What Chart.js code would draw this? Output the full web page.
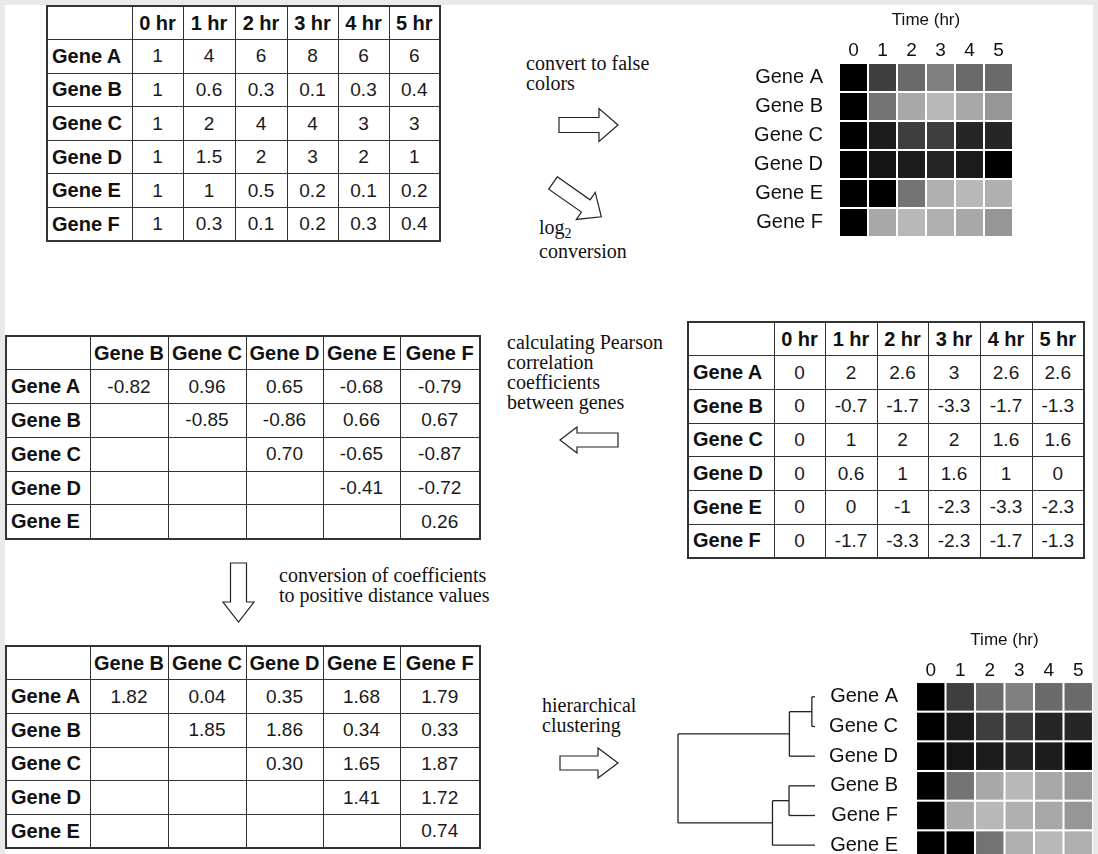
<!DOCTYPE html>
<html lang="en">
<head>
<meta charset="UTF-8">
<title>Gene expression: false colors and clustering</title>
<script src="https://cdn.jsdelivr.net/npm/chart.js"></script>
<style>
    html, body {
        margin: 0;
        padding: 0;
        overflow: hidden;
        background: #e9e9e9;
    }
    body {
        width: 1098px;
        height: 854px;
        position: relative;
        font-family: "Liberation Sans", Arial, sans-serif;
        color: #111;
    }
    .panel {
        position: absolute;
        left: 5px;
        top: 5px;
        width: 1088px;
        height: 870px;
        background: #fff;
    }
    .tbl {
        position: absolute;
        border-collapse: collapse;
        table-layout: fixed;
        border: 2px solid #333;
    }
    .tbl td {
        border: 1px solid #333;
        padding: 0;
        text-align: center;
        vertical-align: middle;
        font-size: 19px;
        color: #1a1a1a;
        white-space: nowrap;
        overflow: hidden;
    }
    .tbl td.h {
        font-weight: bold;
        font-size: 20px;
        color: #111;
    }
    .tbl td.rl {
        text-align: left;
        padding-left: 4px;
    }
    .note {
        position: absolute;
        font-family: "Liberation Serif", "Times New Roman", serif;
        font-size: 20px;
        line-height: 20px;
        color: #111;
        white-space: nowrap;
    }
    .note sub {
        font-size: 14px;
        line-height: 0;
        vertical-align: -4px;
    }
    canvas { position: absolute; }
    svg { position: absolute; left: 0; top: 0; }
</style>
</head>
<body>
<div class="panel"></div>

<!-- arrows -->
<svg width="1098" height="854">
    <g fill="#fff" stroke="#222" stroke-width="1.2">
        <!-- convert to false colors -->
        <polygon points="559,117.5 599,117.5 599,108.5 618,125 599,141.5 599,132.5 559,132.5"/>
        <!-- log2 conversion (tilted) -->
        <polygon points="0,-7.5 40,-7.5 40,-16.5 59,0 40,16.5 40,7.5 0,7.5" transform="translate(553,183) rotate(35)"/>
        <!-- pearson, pointing left -->
        <polygon points="618,433 577,433 577,427 560,440 577,453 577,447 618,447"/>
        <!-- down arrow -->
        <polygon points="230.5,563 246.5,563 246.5,602 254,602 238.5,622 223,602 230.5,602"/>
        <!-- hierarchical clustering -->
        <polygon points="560,756 598,756 598,748 618,763 598,778 598,770 560,770"/>
    </g>
</svg>

<div class="note" style="left:526px; top:53px;">convert to false<br>colors</div>
<div class="note" style="left:539px; top:217px;">log<sub>2</sub></div>
<div class="note" style="left:539px; top:241px;">conversion</div>
<div class="note" style="left:507px; top:332px;">calculating Pearson<br>correlation<br>coefficients<br>between genes</div>
<div class="note" style="left:279px; top:565px;">conversion of coefficients<br>to positive distance values</div>
<div class="note" style="left:542px; top:695px;">hierarchical<br>clustering</div>

<canvas id="heat1" width="320" height="245" style="left:700px; top:0px;"></canvas>
<canvas id="dendro" width="170" height="245" style="left:660px; top:620px;"></canvas>
<canvas id="heat2" width="300" height="245" style="left:800px; top:620px;"></canvas>

<script>
    // ---- data ----
    const genes = ['Gene A', 'Gene B', 'Gene C', 'Gene D', 'Gene E', 'Gene F'];
    const hours = ['0 hr', '1 hr', '2 hr', '3 hr', '4 hr', '5 hr'];
    const timeTicks = ['0', '1', '2', '3', '4', '5'];

    // raw expression ratios
    const rawA = [1, 4, 6, 8, 6, 6];
    const rawB = [1, 0.6, 0.3, 0.1, 0.3, 0.4];
    const rawC = [1, 2, 4, 4, 3, 3];
    const rawD = [1, 1.5, 2, 3, 2, 1];
    const rawE = [1, 1, 0.5, 0.2, 0.1, 0.2];
    const rawF = [1, 0.3, 0.1, 0.2, 0.3, 0.4];

    // log2 values
    const logA = [0, 2, 2.6, 3, 2.6, 2.6];
    const logB = [0, -0.7, -1.7, -3.3, -1.7, -1.3];
    const logC = [0, 1, 2, 2, 1.6, 1.6];
    const logD = [0, 0.6, 1, 1.6, 1, 0];
    const logE = [0, 0, -1, -2.3, -3.3, -2.3];
    const logF = [0, -1.7, -3.3, -2.3, -1.7, -1.3];

    // pairwise tables (rows Gene A..E, columns Gene B..F)
    const pairCols = ['Gene B', 'Gene C', 'Gene D', 'Gene E', 'Gene F'];
    const pairRows = ['Gene A', 'Gene B', 'Gene C', 'Gene D', 'Gene E'];
    const corrA = [-0.82, 0.96, 0.65, -0.68, -0.79];
    const corrB = [null, -0.85, -0.86, 0.66, 0.67];
    const corrC = [null, null, 0.70, -0.65, -0.87];
    const corrD = [null, null, null, -0.41, -0.72];
    const corrE = [null, null, null, null, 0.26];

    const distA = [1.82, 0.04, 0.35, 1.68, 1.79];
    const distB = [null, 1.85, 1.86, 0.34, 0.33];
    const distC = [null, null, 0.30, 1.65, 1.87];
    const distD = [null, null, null, 1.41, 1.72];
    const distE = [null, null, null, null, 0.74];

    // clustering: leaf order, merges (node indices; new nodes numbered from 6) and heights
    const leafOrder = ['Gene A', 'Gene C', 'Gene D', 'Gene B', 'Gene F', 'Gene E'];
    const mergePairs = [[0, 1], [6, 2], [3, 4], [8, 5], [7, 9]];
    const mergeHeights = [0.04, 0.325, 0.33, 0.54, 1.74];

    const logByGene = {
        'Gene A': logA, 'Gene B': logB, 'Gene C': logC,
        'Gene D': logD, 'Gene E': logE, 'Gene F': logF
    };

    // ---- tables ----
    function buildTable(left, top, colW, rowH, header, rowLabels, rows, fmt) {
        const t = document.createElement('table');
        t.className = 'tbl';
        t.style.left = left + 'px';
        t.style.top = top + 'px';
        t.style.width = colW.reduce((a, b) => a + b, 0) + 'px';
        const cg = document.createElement('colgroup');
        colW.forEach(w => {
            const c = document.createElement('col');
            c.style.width = w + 'px';
            cg.appendChild(c);
        });
        t.appendChild(cg);
        const head = t.insertRow();
        head.style.height = rowH + 'px';
        ['', ...header].forEach(h => {
            const td = head.insertCell();
            td.className = 'h';
            td.textContent = h;
        });
        rows.forEach((r, i) => {
            const tr = t.insertRow();
            tr.style.height = rowH + 'px';
            const lab = tr.insertCell();
            lab.className = 'h rl';
            lab.textContent = rowLabels[i];
            r.forEach(v => {
                const td = tr.insertCell();
                td.textContent = v === null ? '' : fmt(v);
            });
        });
        document.body.appendChild(t);
    }

    buildTable(46, 5, [85, 51, 52, 52, 51, 51, 51], 33.6, hours, genes,
        [rawA, rawB, rawC, rawD, rawE, rawF], v => String(v));
    buildTable(687, 321, [86, 51, 52, 51, 52, 52, 52], 33.7, hours, genes,
        [logA, logB, logC, logD, logE, logF], v => String(v));
    buildTable(5, 335, [84, 78, 78, 77, 77, 80], 33.8, pairCols, pairRows,
        [corrA, corrB, corrC, corrD, corrE], v => v.toFixed(2));
    buildTable(5, 645, [84, 78, 78, 77, 77, 80], 33.7, pairCols, pairRows,
        [distA, distB, distC, distD, distE], v => v.toFixed(2));

    // ---- false colour scale (grey levels) ----
    const posStops = [[0, 0], [0.6, 20], [1, 28], [1.6, 38], [2, 62], [2.6, 106], [3, 128]];
    const negStops = [[0, 0], [0.7, 116], [1, 116], [1.3, 150], [1.7, 168], [2.3, 176], [3.3, 184]];

    function shade(v) {
        const stops = v >= 0 ? posStops : negStops;
        const a = Math.abs(v);
        let g = stops[stops.length - 1][1];
        for (let i = 1; i < stops.length; i++) {
            if (a <= stops[i][0]) {
                const [x0, y0] = stops[i - 1], [x1, y1] = stops[i];
                g = y0 + (y1 - y0) * (a - x0) / (x1 - x0);
                break;
            }
        }
        g = Math.round(g);
        return 'rgb(' + g + ',' + g + ',' + g + ')';
    }

    Chart.defaults.font.family = '"Liberation Sans", Arial, sans-serif';
    Chart.defaults.color = '#111';

    const cellFrac = 0.93;

    function drawHeatmap(id, rowNames, fit) {
        const rowValues = rowNames.map(g => logByGene[g]);
        new Chart(document.getElementById(id), {
            type: 'bar',
            data: {
                labels: timeTicks,
                datasets: rowValues.map((vals, r) => ({
                    label: rowNames[r],
                    data: vals.map(() => [r - cellFrac / 2, r + cellFrac / 2]),
                    backgroundColor: vals.map(shade),
                    borderWidth: 0,
                    grouped: false,
                    barPercentage: cellFrac,
                    categoryPercentage: 1
                }))
            },
            options: {
                responsive: false,
                animation: false,
                events: [],
                layout: { padding: fit.padding },
                plugins: {
                    legend: { display: false },
                    tooltip: { enabled: false }
                },
                scales: {
                    x: {
                        position: 'top',
                        grid: { display: false, drawTicks: false },
                        border: { display: false },
                        ticks: { font: { size: 19 }, padding: fit.xTickPad, color: '#111' },
                        title: {
                            display: true,
                            text: 'Time (hr)',
                            font: { size: 17 },
                            color: '#111',
                            padding: { top: fit.titlePad, bottom: 0 }
                        },
                        afterFit: s => {
                            s.height = fit.xAxisHeight;
                            s.paddingLeft = 0;
                            s.paddingRight = 0;
                        }
                    },
                    y: {
                        min: -0.5,
                        max: 5.5,
                        reverse: true,
                        grid: { display: false, drawTicks: false },
                        border: { display: false },
                        afterBuildTicks: s => { s.ticks = rowNames.map((_, i) => ({ value: i })); },
                        ticks: {
                            autoSkip: false,
                            font: { size: 20 },
                            color: '#111',
                            padding: fit.yTickPad,
                            callback: v => rowNames[v]
                        },
                        afterFit: s => {
                            s.width = fit.yAxisWidth;
                            s.paddingTop = 0;
                            s.paddingBottom = 0;
                        }
                    }
                }
            }
        });
    }

    drawHeatmap('heat1', genes, {
        padding: { left: 0, right: 7, top: 0, bottom: 8 },
        yAxisWidth: 139, xAxisHeight: 63, xTickPad: 1, yTickPad: 16, titlePad: 10
    });

    drawHeatmap('heat2', leafOrder, {
        padding: { left: 0, right: 7, top: 0, bottom: 5 },
        yAxisWidth: 116, xAxisHeight: 62, xTickPad: 0, yTickPad: 18, titlePad: 10
    });

    // ---- dendrogram ----
    const nodes = leafOrder.map((g, i) => ({ x: 0, y: i }));
    const segments = [];
    mergePairs.forEach(([a, b], k) => {
        const h = mergeHeights[k];
        const A = nodes[a], B = nodes[b];
        segments.push([{ x: A.x, y: A.y }, { x: h, y: A.y }]);
        segments.push([{ x: B.x, y: B.y }, { x: h, y: B.y }]);
        segments.push([{ x: h, y: A.y }, { x: h, y: B.y }]);
        nodes.push({ x: h, y: (A.y + B.y) / 2 });
    });

    new Chart(document.getElementById('dendro'), {
        type: 'scatter',
        data: {
            datasets: segments.map(seg => ({
                data: seg,
                showLine: true,
                pointRadius: 0,
                borderColor: '#222',
                borderWidth: 1.3,
                clip: false
            }))
        },
        options: {
            responsive: false,
            animation: false,
            events: [],
            layout: { padding: { left: 18, right: 15, top: 62, bottom: 5 } },
            plugins: {
                legend: { display: false },
                tooltip: { enabled: false }
            },
            scales: {
                x: { type: 'linear', display: false, reverse: true, min: 0, max: mergeHeights[mergeHeights.length - 1] },
                y: { type: 'linear', display: false, reverse: true, min: -0.5, max: 5.5 }
            }
        }
    });
</script>
</body>
</html>
